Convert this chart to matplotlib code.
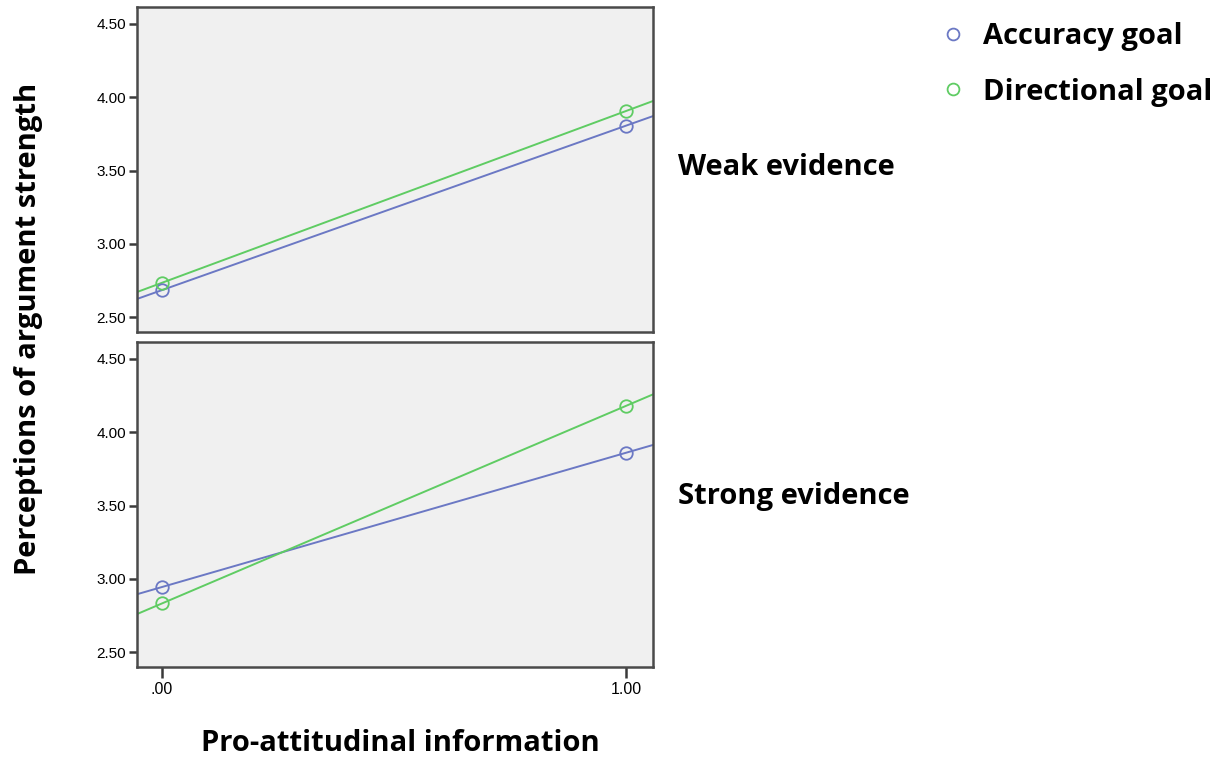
import matplotlib.pyplot as plt
from matplotlib.lines import Line2D
import numpy as np

# Estimated means of perceived argument strength (x = 0 / 1 pro-attitudinal information)
x_levels = [0.0, 1.0]
x_ticklabels = ['.00', '1.00']
y_ticks = [2.5, 3.0, 3.5, 4.0, 4.5]
y_ticklabels = ['2.50', '3.00', '3.50', '4.00', '4.50']

panel_titles = ['Weak evidence', 'Strong evidence']
weak_accuracy = [2.684, 3.806]
weak_directional = [2.734, 3.906]
strong_accuracy = [2.944, 3.86]
strong_directional = [2.832, 4.18]

goal_names = ['Accuracy goal', 'Directional goal']
goal_colors = ['#6b78c4', '#5fcc63']

panels = [(weak_accuracy, weak_directional), (strong_accuracy, strong_directional)]

xlim = (-0.054, 1.058)
ylim = (2.398, 4.616)

fig = plt.figure(figsize=(12.27, 7.6), dpi=100)
axes = [fig.add_axes([0.1117, 0.5632, 0.4204, 0.4276]),
        fig.add_axes([0.1117, 0.1224, 0.4204, 0.4276])]

label_font = 'Liberation Sans'
bold_font = ['Open Sans', 'DejaVu Sans']
title_y = [0.506, 0.524]

for i, (ax, series) in enumerate(zip(axes, panels)):
    ax.set_facecolor('#f0f0f0')
    for values, color in zip(series, goal_colors):
        # fit line through the two cell means, drawn across the whole panel
        slope, intercept = np.polyfit(x_levels, values, 1)
        xs = np.array(xlim)
        ax.plot(xs, slope * xs + intercept, color=color, lw=1.4, zorder=2)
        ax.plot(x_levels, values, 'o', ms=9, mfc='none', mec=color, mew=1.3, zorder=3)
    ax.set_xlim(*xlim)
    ax.set_ylim(*ylim)
    ax.set_yticks(y_ticks)
    ax.set_yticklabels(y_ticklabels, fontsize=11, family=label_font)
    ax.tick_params(axis='y', direction='out', length=6, width=1.8, color='#3a3a3a', pad=2)
    for sp in ax.spines.values():
        sp.set_color('#4a4a4a')
        sp.set_linewidth(1.8)
    if i == 0:
        ax.set_xticks([])
    else:
        ax.set_xticks(x_levels)
        ax.set_xticklabels(x_ticklabels, fontsize=11.5, family=label_font)
        ax.tick_params(axis='x', direction='out', length=8, width=1.8, color='#3a3a3a', pad=3)
    ax.text(1.048, title_y[i], panel_titles[i], transform=ax.transAxes,
            fontsize=21, fontweight='bold', family=bold_font, va='center', ha='left')

fig.text(0.023, 0.567, 'Perceptions of argument strength', rotation=90, fontsize=21,
         fontweight='bold', family=bold_font, va='center', ha='center')
fig.text(0.326, 0.022, 'Pro-attitudinal information', fontsize=21,
         fontweight='bold', family=bold_font, va='center', ha='center')

handles = [Line2D([], [], ls='none', marker='o', ms=8.5, mfc='none', mec=c, mew=1.3) for c in goal_colors]
fig.legend(handles, goal_names, loc='upper left', bbox_to_anchor=(0.748, 1.005), frameon=False,
           prop={'family': bold_font, 'weight': 'bold', 'size': 21}, handletextpad=0.75,
           labelspacing=0.9, handlelength=0.6)

fig.savefig('out.png', dpi=100)
